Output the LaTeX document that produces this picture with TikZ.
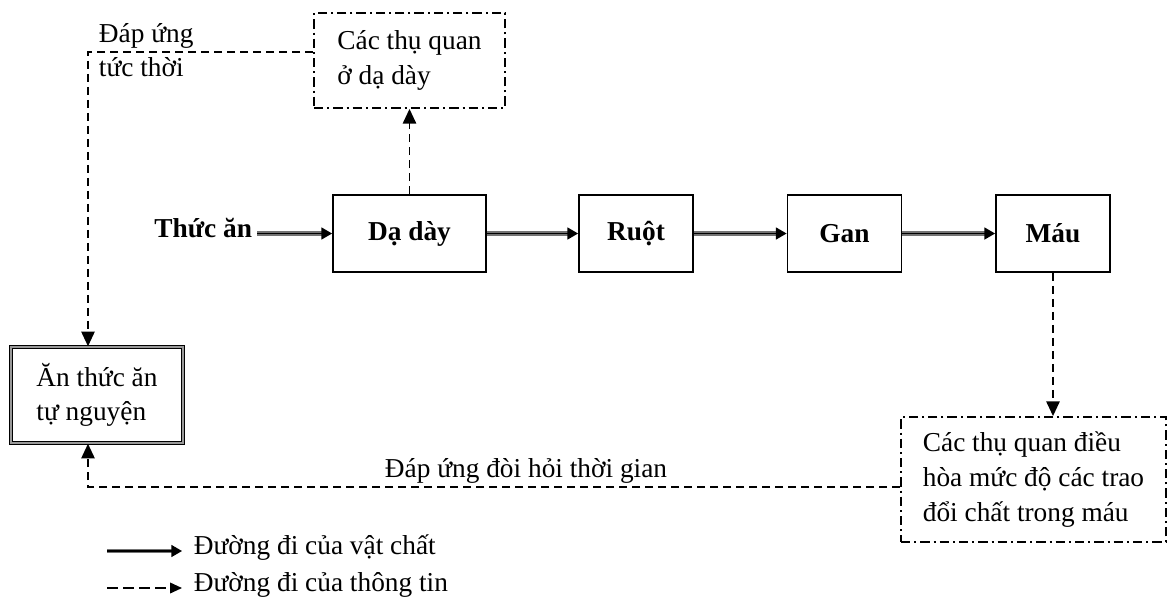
\documentclass[tikz,border=0pt]{standalone}
\usepackage{fontspec}
\setmainfont{Liberation Serif}
\usetikzlibrary{arrows.meta,positioning}

\newcommand{\diagfont}{\fontsize{20.5}{26}\selectfont}

\tikzset{every picture/.style={line width=0.75pt}}
\tikzset{
	organ/.style={draw, line width=1.4pt, minimum width=85.5pt, minimum height=57.75pt, font=\diagfont\bfseries},
	sensbox/.style={draw, line width=1.4pt, dash pattern=on 7pt off 3pt on 1.5pt off 3pt, align=left},
	eatbox/.style={draw, double=black!40, line width=1.1pt, double distance=1pt, minimum width=129pt, minimum height=72pt, align=left},
	info/.style={line width=1.2pt, dash pattern=on 6pt off 3.75pt, -{Triangle[length=11pt,width=10pt]}},
	matter/.style={draw=black!55, double=black, line width=1.1pt, double distance=1.2pt, -{Triangle[length=8pt,width=9pt,color=black,fill=black]}},
}

\begin{document}
\begin{tikzpicture}[x=0.75pt,y=0.75pt,yscale=-1,xscale=1, every node/.style={font=\diagfont}]
	\useasboundingbox (0,0) rectangle (1167,600);

	% Organ boxes
	\node (stomach) [organ, minimum width=114.75pt] at (409.5,233.5) {Dạ dày};
	\node (gut) [organ] at (636,233.5) {Ruột};
	\node (liver) [organ] at (844.5,233.5) {Gan};
	\node (blood) [organ] at (1053,233.5) {Máu};

	% Receptor boxes
	\node (sensA) [sensbox, minimum width=143.25pt, minimum height=71.25pt] at (409.5,60.5) {Các thụ quan\\ở dạ dày};
	\node (sensB) [sensbox, minimum width=198.75pt, minimum height=93.75pt] at (1033.5,479.5) {Các thụ quan điều\\hòa mức độ các trao\\đổi chất trong máu};

	% Eating box
	\node (eat) [eatbox] at (97,395) {Ăn thức ăn\\tự nguyện};

	% Text Node
	\node (food) [anchor=east, font=\diagfont\bfseries] at (257,228) {Thức ăn};
	% Text Node
	\node (quick) [anchor=west, align=left] at (94,50) {Đáp ứng\\tức thời};
	% Text Node
	\node (slow) at (526,471) {Đáp ứng đòi hỏi thời gian};

	\coordinate (cornA) at (88,52);
	\coordinate (cornB) at (88,487);

	% Connection
	\draw [matter] (food.east |- stomach.west) -- (stomach.west);
	\draw [matter] (stomach) -- (gut);
	\draw [matter] (gut) -- (liver);
	\draw [matter] (liver) -- (blood);
	% Connection
	\draw [info] (stomach) -- (sensA);
	\draw [info] (sensA.west |- cornA) -- (cornA) -- (cornA |- eat.north);
	\draw [info] (blood.south) -- (blood.south |- sensB.north);
	\draw [info] (sensB.west |- cornB) -- (cornB) -- (cornB |- eat.south);

	% Legend
	\coordinate (legA) at (107,551);
	\coordinate (legB) at (107,588);
	\node (legmat) [anchor=west] at (189,548) {Đường đi của vật chất};
	\node (leginf) [anchor=west] at (189,585) {Đường đi của thông tin};
	\draw [matter] (legA) -- ++(75,0);
	\draw [info, dash pattern=on 8pt off 4pt, -{Triangle[length=9pt,width=8pt]}] (legB) -- ++(75,0);

\end{tikzpicture}
\end{document}
